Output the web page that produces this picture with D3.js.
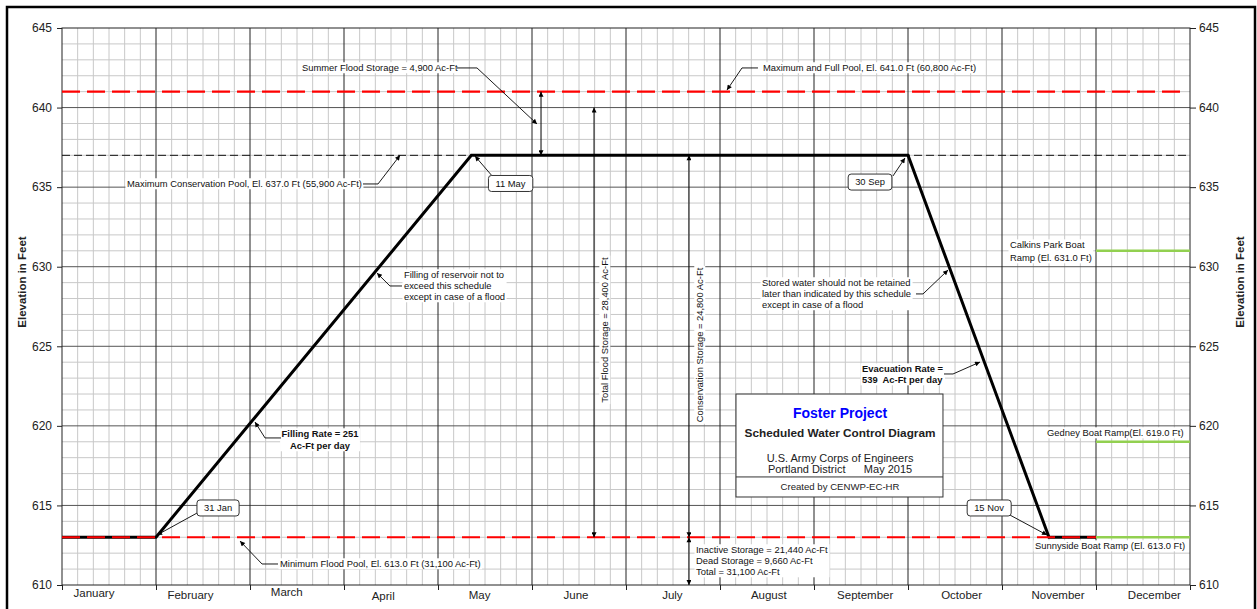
<!DOCTYPE html>
<html><head><meta charset="utf-8">
<script src="https://cdn.jsdelivr.net/npm/d3@7/dist/d3.min.js"></script>
<style>
body{margin:0;background:#fff}
svg{display:block}
text{font-family:Arial,"Liberation Sans",sans-serif;white-space:pre}
</style>
</head><body>
<svg id="c" width="1257" height="609"></svg>
<script>
// ---------------- DATA ----------------
const months = ["January","February","March","April","May","June","July","August","September","October","November","December"];
const daysInMonth = [31,28,31,30,31,30,31,31,30,31,30,31];
const elevationTicks = [610,615,620,625,630,635,640,645];
// schedule: month index, day of that month (0 = month start), elevation (ft)
const scheduleMonth = [0,0,4,8,10,10];
const scheduleDay   = [0,31,11,30,15,30];
const scheduleElev  = [613,613,637,637,613,613];
const dateLabels    = ["31 Jan","11 May","30 Sep","15 Nov"];
// pool levels
const maxPoolElev = 641;
const consPoolElev = 637;
const minFloodElev = 613;
// boat ramps (drawn through December)
const rampNames = ["Calkins Park Boat Ramp","Gedney Boat Ramp","Sunnyside Boat Ramp"];
const rampElev  = [631,619,613];

// ---------------- SCALES ----------------
const W=1257,H=609;
const x = d3.scaleLinear().domain([0,12]).range([62,1190]);
const y = d3.scaleLinear().domain([610,645]).range([585,28]);
const toM = (m,d)=> m + d/daysInMonth[m];

const svg = d3.select("#c");
const defs = svg.append("defs");
defs.append("marker").attr("id","ah").attr("viewBox","0 0 10 10")
  .attr("refX",10).attr("refY",5).attr("markerWidth",7).attr("markerHeight",5)
  .attr("markerUnits","userSpaceOnUse").attr("orient","auto-start-reverse")
  .append("path").attr("d","M0,0L10,5L0,10z").attr("fill","#000");

// outer frame
svg.append("rect").attr("x",7).attr("y",7).attr("width",1248).attr("height",604)
  .attr("fill","none").attr("stroke","#000").attr("stroke-width",2.5);

const g = svg.append("g");

// minor grid
const minorV=[]; for(let m=0;m<12;m++) for(let k=1;k<6;k++) minorV.push(m+k/6);
g.selectAll(".mv").data(minorV).join("line")
  .attr("x1",d=>x(d)).attr("x2",d=>x(d)).attr("y1",y(610)).attr("y2",y(645))
  .attr("stroke","#c8c8c8").attr("stroke-width",1);
const minorH=d3.range(611,645).filter(v=>v%5!==0);
g.selectAll(".mh").data(minorH).join("line")
  .attr("x1",x(0)).attr("x2",x(12)).attr("y1",d=>y(d)).attr("y2",d=>y(d))
  .attr("stroke","#c8c8c8").attr("stroke-width",1);
// major horizontal
g.selectAll(".Mh").data(elevationTicks.slice(1,-1)).join("line")
  .attr("x1",x(0)).attr("x2",x(12)).attr("y1",d=>y(d)).attr("y2",d=>y(d))
  .attr("stroke","#555").attr("stroke-width",1);
// month lines
g.selectAll(".Mv").data(d3.range(1,12)).join("line")
  .attr("x1",d=>x(d)).attr("x2",d=>x(d)).attr("y1",y(610)).attr("y2",y(645))
  .attr("stroke","#222").attr("stroke-width",1);
// plot frame
g.append("rect").attr("x",x(0)).attr("y",y(645)).attr("width",x(12)-x(0)).attr("height",y(610)-y(645))
  .attr("fill","none").attr("stroke","#222").attr("stroke-width",1);

// axes
const fontAxis = 12;
const la = svg.append("g").attr("transform",`translate(${x(0)},0)`)
  .call(d3.axisLeft(y).tickValues(elevationTicks).tickSize(5).tickPadding(5).tickFormat(d3.format("d")));
const ra = svg.append("g").attr("transform",`translate(${x(12)},0)`)
  .call(d3.axisRight(y).tickValues(elevationTicks).tickSize(6).tickPadding(3).tickFormat(d3.format("d")));
const ba = svg.append("g").attr("transform",`translate(0,${y(610)})`)
  .call(d3.axisBottom(x).tickValues(d3.range(0,13)).tickSize(5).tickFormat(""));
[la,ra,ba].forEach(a=>{a.select(".domain").remove();
  a.selectAll("text").attr("font-size",fontAxis).attr("fill","#222").attr("font-family",null);
  a.selectAll("line").attr("stroke","#222");});

// month labels (slightly staggered as in source)
const monthDy=[-2,0,-3,1,0,0,0,0,0,0,0,0];
svg.selectAll(".ml").data(months).join("text")
  .attr("x",(d,i)=>x(i+0.5)-15+2.4*i).attr("y",(d,i)=>599+monthDy[i])
  .attr("text-anchor","middle").attr("font-size",11.5).attr("fill","#222").text(d=>d);

// axis titles
[[22,282],[1240,282]].forEach(p=>{
  svg.append("text").attr("transform",`translate(${p[0]},${p[1]}) rotate(-90)`)
    .attr("text-anchor","middle").attr("dy","0.35em").attr("font-size",11.5).attr("font-weight","bold")
    .attr("fill","#222").text("Elevation in Feet");
});

// reference lines
g.append("line").attr("x1",x(0)).attr("x2",x(12)).attr("y1",y(consPoolElev)).attr("y2",y(consPoolElev))
  .attr("stroke","#111").attr("stroke-width",1).attr("stroke-dasharray","8,4");

// boat ramps
g.selectAll(".ramp").data(rampElev).join("line")
  .attr("x1",x(11)).attr("x2",x(12)).attr("y1",d=>y(d)).attr("y2",d=>y(d))
  .attr("stroke","#92d050").attr("stroke-width",2.5);

// schedule
const sched = scheduleMonth.map((m,i)=>[toM(m,scheduleDay[i]),scheduleElev[i]]);
g.append("path").datum(sched)
  .attr("d",d3.line().x(d=>x(d[0])).y(d=>y(d[1])))
  .attr("fill","none").attr("stroke","#000").attr("stroke-width",3).attr("stroke-linejoin","miter");

// red dashed pools
g.append("line").attr("x1",x(0)).attr("x2",x(12)-6).attr("y1",y(maxPoolElev)).attr("y2",y(maxPoolElev))
  .attr("stroke","#ff0000").attr("stroke-width",2.2).attr("stroke-dasharray","18,7");
g.append("line").attr("x1",x(0)).attr("x2",x(11)).attr("y1",y(minFloodElev)).attr("y2",y(minFloodElev))
  .attr("stroke","#ff0000").attr("stroke-width",2.2).attr("stroke-dasharray","18,7");

// ---------------- ANNOTATIONS ----------------
const ann = svg.append("g");
const FS = 9.4;
// leader lines [x,elev] in data space, last point carries an arrow
const leaders = [
  [[4.202,642.49],[4.415,642.49],[5.053,638.97]],
  [[7.404,642.49],[7.234,642.49],[7.074,641.1]],
  [[3.202,635.2],[3.362,635.2],[3.596,637.0]],
  [[4.585,635.64],[4.394,636.95]],
  [[8.840,635.70],[8.968,636.83]],
  [[1.436,614.52],[1.011,613.14]],
  [[10.064,614.46],[10.479,613.14]],
  [[3.617,628.79],[3.489,628.79],[3.351,629.60]],
  [[2.330,619.24],[2.160,619.24],[2.053,620.24]],
  [[9.085,628.29],[9.160,628.29],[9.426,629.79]],
  [[9.383,623.26],[9.479,623.26],[9.766,624.01]],
  [[2.298,611.32],[2.128,611.32],[1.894,612.76]]
];
// double arrows [x, elevTop, elevBottom]
const dbl = [[5.096,641,637],[5.660,640,613],[6.670,637,613],[6.670,613,610]];
dbl.forEach(d=>{
  ann.append("line").attr("x1",x(d[0])).attr("x2",x(d[0])).attr("y1",y(d[1])).attr("y2",y(d[2]))
    .attr("stroke","#000").attr("stroke-width",1)
    .attr("marker-start","url(#ah)").attr("marker-end","url(#ah)");
});

function textBlock(lines,px,py,opt={}){
  const lh = opt.lh||11, fs=opt.fs||FS;
  const gg = ann.append("g");
  const bg = gg.append("rect").attr("fill","#fff");
  const t = gg.append("text").attr("font-size",fs).attr("fill","#111")
    .attr("font-weight",opt.bold?"bold":null).attr("text-anchor",opt.anchor||"start");
  lines.forEach((l,i)=>t.append("tspan").attr("x",px).attr("y",py+i*lh).attr("dy","0.35em").text(l));
  if(opt.rot){ t.attr("transform",`rotate(-90,${px},${py})`); bg.attr("transform",`rotate(-90,${px},${py})`);}
  const b=t.node().getBBox();
  bg.attr("x",b.x-1.5).attr("y",b.y).attr("width",b.width+3).attr("height",b.height);
  return gg;
}
const notes = [
  [["Summer Flood Storage = 4,900 Ac-Ft"],2.553,642.49,{}],
  [["Maximum and Full Pool, El. 641.0 Ft (60,800 Ac-Ft)"],7.457,642.49,{}],
  [["Maximum Conservation Pool, El. 637.0 Ft (55,900 Ac-Ft)"],0.691,635.2,{}],
  [["Filling of reservoir not to","exceed this schedule","except in case of a flood"],3.638,629.48,{}],
  [["Filling Rate = 251","Ac-Ft per day"],2.745,619.49,{bold:1,anchor:"middle",lh:12}],
  [["Stored water should not be retained","later than indicated by this schedule","except in case of a flood"],7.447,628.98,{}],
  [["Evacuation Rate =","539  Ac-Ft per day"],8.511,623.57,{bold:1}],
  [["Inactive Storage = 21,440 Ac-Ft","Dead Storage = 9,660 Ac-Ft","Total = 31,100 Ac-Ft"],6.745,612.20,{}],
  [["Minimum Flood Pool, El. 613.0 Ft (31,100 Ac-Ft)"],2.319,611.32,{}],
  [["Calkins Park Boat","Ramp (El. 631.0 Ft)"],10.085,631.36,{lh:13}],
  [["Gedney Boat Ramp(El. 619.0 Ft)"],10.479,619.55,{}],
  [["Sunnyside Boat Ramp (El. 613.0 Ft)"],10.351,612.45,{}],
  [["Total Flood Storage = 28,400 Ac-Ft"],5.777,626.02,{rot:1,anchor:"middle"}],
  [["Conservation Storage = 24,800 Ac-Ft"],6.787,625.08,{rot:1,anchor:"middle"}]
];
notes.forEach(n=>textBlock(n[0],x(n[1]),y(n[2]),n[3]));

leaders.forEach(p=>{
  ann.append("path").attr("d",d3.line().x(d=>x(d[0])).y(d=>y(d[1]))(p))
    .attr("fill","none").attr("stroke","#000").attr("stroke-width",0.9).attr("marker-end","url(#ah)");
});

// date boxes
const dateBoxPos = [[1.660,614.84],[4.771,635.23],[8.596,635.32],[9.862,614.84]];
dateLabels.forEach((l,i)=>{
  const px=x(dateBoxPos[i][0]), py=y(dateBoxPos[i][1]);
  const gg=ann.append("g");
  const r=gg.append("rect").attr("fill","#fff").attr("stroke","#333").attr("stroke-width",1).attr("rx",3);
  const t=gg.append("text").attr("x",px).attr("y",py).attr("dy","0.35em").attr("text-anchor","middle")
    .attr("font-size",FS).attr("fill","#111").text(l);
  const b=t.node().getBBox();
  r.attr("x",b.x-7).attr("y",py-8).attr("width",b.width+14).attr("height",16);
});

// title box
const tb = {x0:7.170,x1:9.372,top:622.0,bot:615.53,sep:616.79,cx:8.277};
ann.append("rect").attr("x",x(tb.x0)).attr("y",y(tb.top)).attr("width",x(tb.x1)-x(tb.x0)).attr("height",y(tb.bot)-y(tb.top))
  .attr("fill","#fff").attr("stroke","#333").attr("stroke-width",1);
ann.append("line").attr("x1",x(tb.x0)).attr("x2",x(tb.x1)).attr("y1",y(tb.sep)).attr("y2",y(tb.sep)).attr("stroke","#333");
const titleLines = [
  ["Foster Project",620.81,14,"bold","#0000ff"],
  ["Scheduled Water Control Diagram",619.55,11.8,"bold","#222"],
  ["U.S. Army Corps of Engineers",617.98,11,null,"#222"],
  ["Portland District      May 2015",617.29,11,null,"#222"],
  ["Created by CENWP-EC-HR",616.16,9.6,null,"#222"]
];
titleLines.forEach(l=>{
  ann.append("text").attr("x",x(tb.cx)).attr("y",y(l[1])).attr("dy","0.35em").attr("text-anchor","middle")
    .attr("font-size",l[2]).attr("font-weight",l[3]).attr("fill",l[4]).text(l[0]);
});
</script>
</body></html>
